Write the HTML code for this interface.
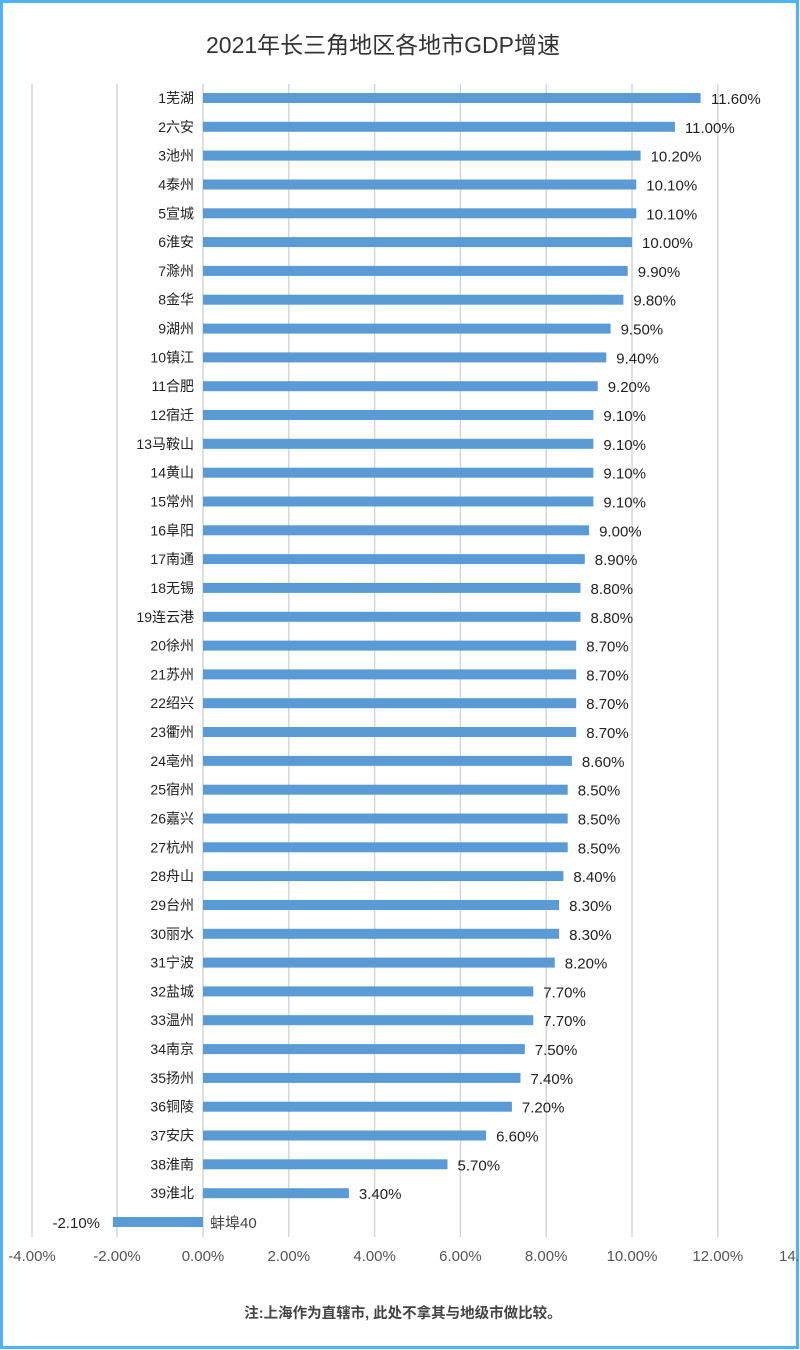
<!DOCTYPE html>
<html><head><meta charset="utf-8"><style>
html,body{margin:0;padding:0;background:#fff}
svg{display:block}
text{font-family:"Liberation Sans","Noto Sans CJK SC",sans-serif}
</style></head><body>
<svg width="800" height="1350" xmlns="http://www.w3.org/2000/svg">
<rect x="0" y="0" width="800" height="1350" fill="#fff"/>
<rect x="1.5" y="1.5" width="796" height="1346" fill="none" stroke="#4db3f2" stroke-width="3"/>
<text x="383" y="53" font-size="23" fill="#333" text-anchor="middle">2021年长三角地区各地市GDP增速</text>
<g stroke="#d6d6d6" stroke-width="1.5">
<line x1="32" y1="84" x2="32" y2="1237"/><line x1="117" y1="84" x2="117" y2="1237"/><line x1="203" y1="84" x2="203" y2="1237"/>
<line x1="288.8" y1="84" x2="288.8" y2="1237"/><line x1="374.6" y1="84" x2="374.6" y2="1237"/><line x1="460.4" y1="84" x2="460.4" y2="1237"/>
<line x1="546.2" y1="84" x2="546.2" y2="1237"/><line x1="632" y1="84" x2="632" y2="1237"/><line x1="717.8" y1="84" x2="717.8" y2="1237"/>
</g>
<g font-size="15" fill="#555" text-anchor="middle">
<text x="32" y="1261">-4.00%</text><text x="117" y="1261">-2.00%</text><text x="203" y="1261">0.00%</text><text x="288.8" y="1261">2.00%</text><text x="374.6" y="1261">4.00%</text><text x="460.4" y="1261">6.00%</text><text x="546.2" y="1261">8.00%</text><text x="632" y="1261">10.00%</text><text x="717.8" y="1261">12.00%</text><text x="779" y="1261" text-anchor="start">14.</text>
</g>
<text x="403" y="1318" font-size="14.5" fill="#444" font-weight="bold" text-anchor="middle">注:上海作为直辖市, 此处不拿其与地级市做比较。</text>
<g font-size="14" fill="#222">
<g font-size="15" fill="#222">
<text x="711" y="104">11.60%</text>
</g>
</g>
<g font-size="14" fill="#222">
<g transform="translate(0,93)"><rect x="203" y="0" width="497.6" height="10" fill="#5b9bd5"/><text x="194" y="10" text-anchor="end">1芜湖</text></g>
<g transform="translate(0,121.8)"><rect x="203" y="0" width="471.9" height="10" fill="#5b9bd5"/><text x="194" y="10" text-anchor="end">2六安</text><text x="684.9" y="11" font-size="15">11.00%</text></g>
<g transform="translate(0,150.6)"><rect x="203" y="0" width="437.6" height="10" fill="#5b9bd5"/><text x="194" y="10" text-anchor="end">3池州</text><text x="650.6" y="11" font-size="15">10.20%</text></g>
<g transform="translate(0,179.5)"><rect x="203" y="0" width="433.3" height="10" fill="#5b9bd5"/><text x="194" y="10" text-anchor="end">4泰州</text><text x="646.3" y="11" font-size="15">10.10%</text></g>
<g transform="translate(0,208.3)"><rect x="203" y="0" width="433.3" height="10" fill="#5b9bd5"/><text x="194" y="10" text-anchor="end">5宣城</text><text x="646.3" y="11" font-size="15">10.10%</text></g>
<g transform="translate(0,237.1)"><rect x="203" y="0" width="429" height="10" fill="#5b9bd5"/><text x="194" y="10" text-anchor="end">6淮安</text><text x="642" y="11" font-size="15">10.00%</text></g>
<g transform="translate(0,265.9)"><rect x="203" y="0" width="424.7" height="10" fill="#5b9bd5"/><text x="194" y="10" text-anchor="end">7滁州</text><text x="637.7" y="11" font-size="15">9.90%</text></g>
<g transform="translate(0,294.7)"><rect x="203" y="0" width="420.4" height="10" fill="#5b9bd5"/><text x="194" y="10" text-anchor="end">8金华</text><text x="633.4" y="11" font-size="15">9.80%</text></g>
<g transform="translate(0,323.6)"><rect x="203" y="0" width="407.6" height="10" fill="#5b9bd5"/><text x="194" y="10" text-anchor="end">9湖州</text><text x="620.6" y="11" font-size="15">9.50%</text></g>
<g transform="translate(0,352.4)"><rect x="203" y="0" width="403.3" height="10" fill="#5b9bd5"/><text x="194" y="10" text-anchor="end">10镇江</text><text x="616.3" y="11" font-size="15">9.40%</text></g>
<g transform="translate(0,381.2)"><rect x="203" y="0" width="394.7" height="10" fill="#5b9bd5"/><text x="194" y="10" text-anchor="end">11合肥</text><text x="607.7" y="11" font-size="15">9.20%</text></g>
<g transform="translate(0,410)"><rect x="203" y="0" width="390.4" height="10" fill="#5b9bd5"/><text x="194" y="10" text-anchor="end">12宿迁</text><text x="603.4" y="11" font-size="15">9.10%</text></g>
<g transform="translate(0,438.8)"><rect x="203" y="0" width="390.4" height="10" fill="#5b9bd5"/><text x="194" y="10" text-anchor="end">13马鞍山</text><text x="603.4" y="11" font-size="15">9.10%</text></g>
<g transform="translate(0,467.7)"><rect x="203" y="0" width="390.4" height="10" fill="#5b9bd5"/><text x="194" y="10" text-anchor="end">14黄山</text><text x="603.4" y="11" font-size="15">9.10%</text></g>
<g transform="translate(0,496.5)"><rect x="203" y="0" width="390.4" height="10" fill="#5b9bd5"/><text x="194" y="10" text-anchor="end">15常州</text><text x="603.4" y="11" font-size="15">9.10%</text></g>
<g transform="translate(0,525.3)"><rect x="203" y="0" width="386.1" height="10" fill="#5b9bd5"/><text x="194" y="10" text-anchor="end">16阜阳</text><text x="599.1" y="11" font-size="15">9.00%</text></g>
<g transform="translate(0,554.1)"><rect x="203" y="0" width="381.8" height="10" fill="#5b9bd5"/><text x="194" y="10" text-anchor="end">17南通</text><text x="594.8" y="11" font-size="15">8.90%</text></g>
<g transform="translate(0,582.9)"><rect x="203" y="0" width="377.5" height="10" fill="#5b9bd5"/><text x="194" y="10" text-anchor="end">18无锡</text><text x="590.5" y="11" font-size="15">8.80%</text></g>
<g transform="translate(0,611.8)"><rect x="203" y="0" width="377.5" height="10" fill="#5b9bd5"/><text x="194" y="10" text-anchor="end">19连云港</text><text x="590.5" y="11" font-size="15">8.80%</text></g>
<g transform="translate(0,640.6)"><rect x="203" y="0" width="373.2" height="10" fill="#5b9bd5"/><text x="194" y="10" text-anchor="end">20徐州</text><text x="586.2" y="11" font-size="15">8.70%</text></g>
<g transform="translate(0,669.4)"><rect x="203" y="0" width="373.2" height="10" fill="#5b9bd5"/><text x="194" y="10" text-anchor="end">21苏州</text><text x="586.2" y="11" font-size="15">8.70%</text></g>
<g transform="translate(0,698.2)"><rect x="203" y="0" width="373.2" height="10" fill="#5b9bd5"/><text x="194" y="10" text-anchor="end">22绍兴</text><text x="586.2" y="11" font-size="15">8.70%</text></g>
<g transform="translate(0,727)"><rect x="203" y="0" width="373.2" height="10" fill="#5b9bd5"/><text x="194" y="10" text-anchor="end">23衢州</text><text x="586.2" y="11" font-size="15">8.70%</text></g>
<g transform="translate(0,755.9)"><rect x="203" y="0" width="368.9" height="10" fill="#5b9bd5"/><text x="194" y="10" text-anchor="end">24亳州</text><text x="581.9" y="11" font-size="15">8.60%</text></g>
<g transform="translate(0,784.7)"><rect x="203" y="0" width="364.7" height="10" fill="#5b9bd5"/><text x="194" y="10" text-anchor="end">25宿州</text><text x="577.7" y="11" font-size="15">8.50%</text></g>
<g transform="translate(0,813.5)"><rect x="203" y="0" width="364.7" height="10" fill="#5b9bd5"/><text x="194" y="10" text-anchor="end">26嘉兴</text><text x="577.7" y="11" font-size="15">8.50%</text></g>
<g transform="translate(0,842.3)"><rect x="203" y="0" width="364.7" height="10" fill="#5b9bd5"/><text x="194" y="10" text-anchor="end">27杭州</text><text x="577.7" y="11" font-size="15">8.50%</text></g>
<g transform="translate(0,871.1)"><rect x="203" y="0" width="360.4" height="10" fill="#5b9bd5"/><text x="194" y="10" text-anchor="end">28舟山</text><text x="573.4" y="11" font-size="15">8.40%</text></g>
<g transform="translate(0,900)"><rect x="203" y="0" width="356.1" height="10" fill="#5b9bd5"/><text x="194" y="10" text-anchor="end">29台州</text><text x="569.1" y="11" font-size="15">8.30%</text></g>
<g transform="translate(0,928.8)"><rect x="203" y="0" width="356.1" height="10" fill="#5b9bd5"/><text x="194" y="10" text-anchor="end">30丽水</text><text x="569.1" y="11" font-size="15">8.30%</text></g>
<g transform="translate(0,957.6)"><rect x="203" y="0" width="351.8" height="10" fill="#5b9bd5"/><text x="194" y="10" text-anchor="end">31宁波</text><text x="564.8" y="11" font-size="15">8.20%</text></g>
<g transform="translate(0,986.4)"><rect x="203" y="0" width="330.3" height="10" fill="#5b9bd5"/><text x="194" y="10" text-anchor="end">32盐城</text><text x="543.3" y="11" font-size="15">7.70%</text></g>
<g transform="translate(0,1015.2)"><rect x="203" y="0" width="330.3" height="10" fill="#5b9bd5"/><text x="194" y="10" text-anchor="end">33温州</text><text x="543.3" y="11" font-size="15">7.70%</text></g>
<g transform="translate(0,1044.1)"><rect x="203" y="0" width="321.8" height="10" fill="#5b9bd5"/><text x="194" y="10" text-anchor="end">34南京</text><text x="534.8" y="11" font-size="15">7.50%</text></g>
<g transform="translate(0,1072.9)"><rect x="203" y="0" width="317.5" height="10" fill="#5b9bd5"/><text x="194" y="10" text-anchor="end">35扬州</text><text x="530.5" y="11" font-size="15">7.40%</text></g>
<g transform="translate(0,1101.7)"><rect x="203" y="0" width="308.9" height="10" fill="#5b9bd5"/><text x="194" y="10" text-anchor="end">36铜陵</text><text x="521.9" y="11" font-size="15">7.20%</text></g>
<g transform="translate(0,1130.5)"><rect x="203" y="0" width="283.1" height="10" fill="#5b9bd5"/><text x="194" y="10" text-anchor="end">37安庆</text><text x="496.1" y="11" font-size="15">6.60%</text></g>
<g transform="translate(0,1159.3)"><rect x="203" y="0" width="244.5" height="10" fill="#5b9bd5"/><text x="194" y="10" text-anchor="end">38淮南</text><text x="457.5" y="11" font-size="15">5.70%</text></g>
<g transform="translate(0,1188.2)"><rect x="203" y="0" width="145.9" height="10" fill="#5b9bd5"/><text x="194" y="10" text-anchor="end">39淮北</text><text x="358.9" y="11" font-size="15">3.40%</text></g>
<g transform="translate(0,1217)"><rect x="112.9" y="0" width="90.1" height="10" fill="#5b9bd5"/><text x="210" y="11" fill="#444" font-size="15">蚌埠40</text><text x="100" y="11" text-anchor="end" font-size="15">-2.10%</text></g>
</g>
</svg>
</body></html>
